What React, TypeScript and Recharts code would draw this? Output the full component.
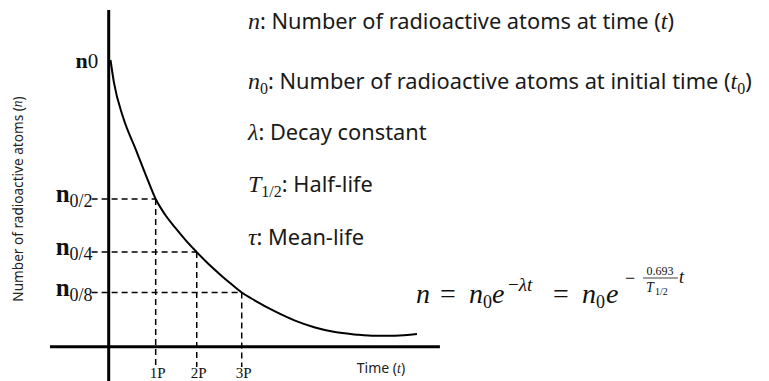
import React from "react";
import { LineChart, Line, XAxis, YAxis, ReferenceLine, ReferenceDot } from "recharts";

// decay curve (t in half-lives, n as fraction of n0)
const decayT = [0.04, 0.118, 0.318, 0.607, 0.829, 1.044, 1.251, 1.473, 1.718, 1.956, 2.207, 2.473, 2.696, 2.956, 3.251, 3.696, 4.14, 4.584, 5.029, 5.473, 5.918, 6.362, 6.851];
const decayN = [1.0, 0.92, 0.801, 0.686, 0.597, 0.515, 0.461, 0.416, 0.37, 0.33, 0.29, 0.252, 0.222, 0.189, 0.161, 0.123, 0.091, 0.067, 0.051, 0.043, 0.038, 0.038, 0.044];

// guide levels and their half-life marks
const topLabel = "0";
const levelSubs = ["0/2", "0/4", "0/8"];
const levelN = [0.515, 0.33, 0.189];
const halfLifeT = [1.044, 1.956, 2.956];
const halfLifeLabels = ["1P", "2P", "3P"];

const curve = decayT.map((t, i) => ({ t, n: decayN[i] }));

const X_DOMAIN = [-2.4156, 14.673];
const Y_DOMAIN = [-0.1196, 1.2093];
const GUIDE_LEFT = -0.38;
const GUIDE_BOTTOM = -0.071;

const SERIF = "'Liberation Serif', 'Times New Roman', serif";
const SANS = "'Noto Sans', 'Open Sans', Arial, sans-serif";
const INK = "#1a1a1a";

const LevelLabel = (sub: string) => (p: any) => (
  <text x={p.cx + 1} y={p.cy + 3} textAnchor="end" fontFamily={SERIF} fill="#111">
    <tspan fontSize={25} fontWeight="bold">n</tspan>
    <tspan fontSize={18} dy={5}>{sub}</tspan>
  </text>
);

const TopLabel = (p: any) => (
  <text x={p.cx + 3} y={p.cy + 8} textAnchor="end" fontFamily={SERIF} fill="#111">
    <tspan fontSize={22} fontWeight="bold">n</tspan>
    <tspan fontSize={21}>{topLabel}</tspan>
  </text>
);

const TickLabel = (label: string) => (p: any) => (
  <text x={p.cx + 2} y={p.cy + 11} textAnchor="middle" fontFamily={SERIF} fontSize={15} fill="#111">
    {label}
  </text>
);

function Notes() {
  const m = { fontFamily: SERIF, fontStyle: "italic" as const };
  return (
    <svg width={769} height={381} style={{ position: "absolute", left: 0, top: 0, pointerEvents: "none" }}>
      {/* legend of symbols */}
      <g fill={INK} fontFamily={SANS} fontSize={21.8}>
        <text x={248} y={29}>
          <tspan {...m} fontSize={24}>n</tspan>
          <tspan>: Number of radioactive atoms at time (</tspan>
          <tspan {...m} fontSize={24}>t</tspan>
          <tspan>)</tspan>
        </text>
        <text x={248} y={89}>
          <tspan {...m} fontSize={24}>n</tspan>
          <tspan fontFamily={SERIF} fontSize={16} dy={5}>0</tspan>
          <tspan dy={-5}>: Number of radioactive atoms at initial time (</tspan>
          <tspan {...m} fontSize={24}>t</tspan>
          <tspan fontFamily={SERIF} fontSize={16} dy={5}>0</tspan>
          <tspan dy={-5}>)</tspan>
        </text>
        <text x={248} y={140}>
          <tspan {...m} fontSize={24}>λ</tspan>
          <tspan>: Decay constant</tspan>
        </text>
        <text x={248} y={192}>
          <tspan {...m} fontSize={24}>T</tspan>
          <tspan fontFamily={SERIF} fontSize={16} dy={5}>1/2</tspan>
          <tspan dy={-5}>: Half-life</tspan>
        </text>
        <text x={248} y={245}>
          <tspan {...m} fontSize={24}>τ</tspan>
          <tspan>: Mean-life</tspan>
        </text>
      </g>

      {/* decay law */}
      <g fill="#111" fontFamily={SERIF}>
        <text x={416} y={303} fontSize={28} fontStyle="italic">n</text>
        <text x={440} y={303} fontSize={28}>=</text>
        <text x={469} y={303} fontSize={28} fontStyle="italic">n</text>
        <text x={483} y={308} fontSize={18}>0</text>
        <text x={492} y={303} fontSize={28} fontStyle="italic">e</text>
        <text x={508} y={291} fontSize={19}>
          <tspan>−</tspan>
          <tspan fontStyle="italic">λt</tspan>
        </text>
        <text x={553} y={303} fontSize={28}>=</text>
        <text x={582} y={303} fontSize={28} fontStyle="italic">n</text>
        <text x={596} y={308} fontSize={18}>0</text>
        <text x={606} y={303} fontSize={28} fontStyle="italic">e</text>
        <text x={625} y={284} fontSize={18}>−</text>
        <text x={660} y={275} fontSize={12} textAnchor="middle">0.693</text>
        <line x1={643} x2={678} y1={278} y2={278} stroke="#111" strokeWidth={0.8} />
        <text x={646} y={292} fontSize={14} fontStyle="italic">T</text>
        <text x={655} y={295} fontSize={10}>1/2</text>
        <text x={679} y={283} fontSize={18} fontStyle="italic">t</text>
      </g>

      {/* axis titles */}
      <text x={19} y={199} transform="rotate(-90 19 199)" textAnchor="middle" dominantBaseline="middle"
        fontFamily={SANS} fontSize={13.6} fill="#222">
        Number of radioactive atoms (<tspan fontFamily={SERIF} fontStyle="italic">n</tspan>)
      </text>
      <text x={381} y={373} textAnchor="middle" fontFamily={SANS} fontSize={14} fill="#222">
        Time (<tspan fontFamily={SERIF} fontStyle="italic">t</tspan>)
      </text>
    </svg>
  );
}

export default function App() {
  return (
    <div style={{ position: "absolute", left: 0, top: 0, width: 769, height: 381, background: "#fff" }}>
      <LineChart width={769} height={381} data={curve} margin={{ top: 0, right: 0, bottom: 0, left: 0 }}>
        <XAxis dataKey="t" type="number" domain={X_DOMAIN} allowDataOverflow hide />
        <YAxis type="number" domain={Y_DOMAIN} allowDataOverflow hide />

        {/* drawn axes, crossing at the origin */}
        <ReferenceLine segment={[{ x: 0, y: Y_DOMAIN[0] }, { x: 0, y: 1.174 }]} stroke="#000" strokeWidth={3} ifOverflow="visible" />
        <ReferenceLine segment={[{ x: -1.304, y: 0 }, { x: 7.36, y: 0 }]} stroke="#000" strokeWidth={3} ifOverflow="visible" />

        {levelN.map((n, i) => (
          <ReferenceLine key={"h" + i} segment={[{ x: GUIDE_LEFT, y: n }, { x: halfLifeT[i], y: n }]}
            stroke="#000" strokeWidth={1.5} strokeDasharray="6 4" ifOverflow="visible" />
        ))}
        {halfLifeT.map((t, i) => (
          <ReferenceLine key={"v" + i} segment={[{ x: t, y: levelN[i] }, { x: t, y: GUIDE_BOTTOM }]}
            stroke="#000" strokeWidth={1.5} strokeDasharray="6 4" ifOverflow="visible" />
        ))}

        <Line dataKey="n" type="monotone" stroke="#000" strokeWidth={2} dot={false} activeDot={false} isAnimationActive={false} />

        <ReferenceDot x={-0.3} y={decayN[0]} r={0} shape={TopLabel} ifOverflow="visible" />
        {levelN.map((n, i) => (
          <ReferenceDot key={"l" + i} x={GUIDE_LEFT} y={n} r={0} shape={LevelLabel(levelSubs[i])} ifOverflow="visible" />
        ))}
        {halfLifeT.map((t, i) => (
          <ReferenceDot key={"p" + i} x={t} y={GUIDE_BOTTOM} r={0} shape={TickLabel(halfLifeLabels[i])} ifOverflow="visible" />
        ))}
      </LineChart>
      <Notes />
    </div>
  );
}
